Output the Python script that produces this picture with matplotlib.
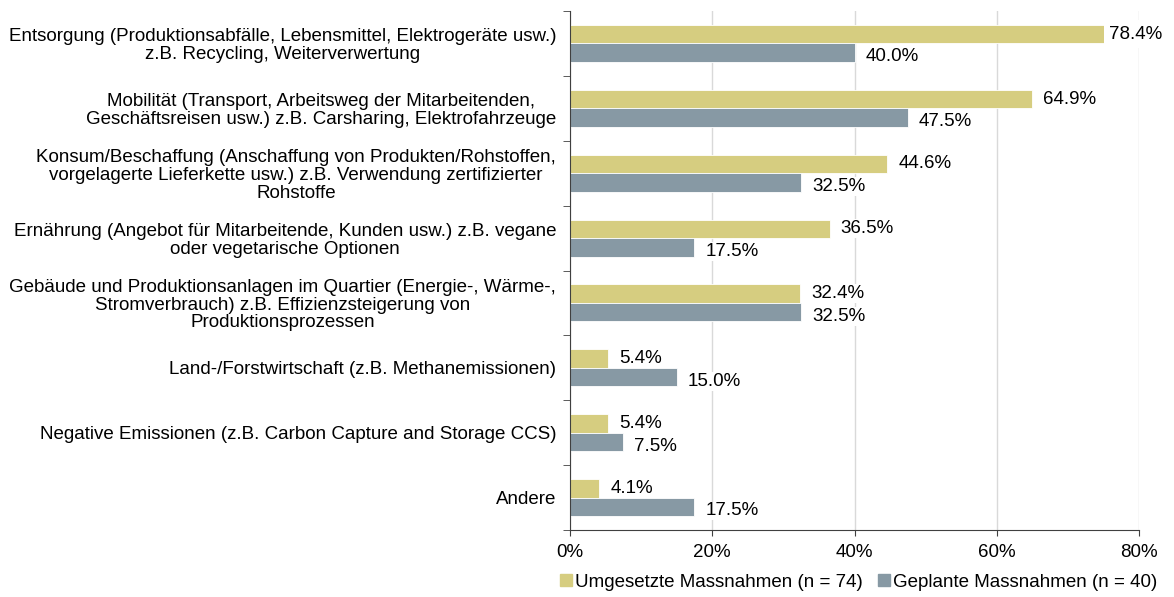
import numpy as np
import matplotlib
matplotlib.use("Agg")
import matplotlib.pyplot as plt
from matplotlib.lines import Line2D

plt.rcParams["font.family"] = ["Liberation Sans", "DejaVu Sans"]

categories = [
    "Entsorgung (Produktionsabfälle, Lebensmittel, Elektrogeräte usw.)\nz.B. Recycling, Weiterverwertung",
    "Mobilität (Transport, Arbeitsweg der Mitarbeitenden,\nGeschäftsreisen usw.) z.B. Carsharing, Elektrofahrzeuge",
    "Konsum/Beschaffung (Anschaffung von Produkten/Rohstoffen,\nvorgelagerte Lieferkette usw.) z.B. Verwendung zertifizierter\nRohstoffe",
    "Ernährung (Angebot für Mitarbeitende, Kunden usw.) z.B. vegane\noder vegetarische Optionen",
    "Gebäude und Produktionsanlagen im Quartier (Energie-, Wärme-,\nStromverbrauch) z.B. Effizienzsteigerung von\nProduktionsprozessen",
    "Land-/Forstwirtschaft (z.B. Methanemissionen)",
    "Negative Emissionen (z.B. Carbon Capture and Storage CCS)",
    "Andere",
]
umgesetzt = [78.4, 64.9, 44.6, 36.5, 32.4, 5.4, 5.4, 4.1]
geplant = [40.0, 47.5, 32.5, 17.5, 32.5, 15.0, 7.5, 17.5]
series_names = ["Umgesetzte Massnahmen (n = 74)", "Geplante Massnahmen (n = 40)"]

GOLD = "#D6CD80"
BLUE = "#8799A4"
FS = 13.5

fig = plt.figure(figsize=(11.74, 5.97), dpi=100)
ax = fig.add_axes([570 / 1174, 1 - 530 / 597, (1139 - 570) / 1174, (530 - 11) / 597])

y = np.arange(len(categories))
h = 0.285
ax.barh(y - h / 2, umgesetzt, height=h, color=GOLD, edgecolor="white", linewidth=0.6, zorder=2)
ax.barh(y + h / 2, geplant, height=h, color=BLUE, edgecolor="white", linewidth=0.6, zorder=2)

ax.set_xlim(0, 80)
ax.set_ylim(len(categories) - 0.5, -0.5)

box = dict(boxstyle="square,pad=0.05", fc="white", ec="none")
for yi, v in zip(y, umgesetzt):
    if v > 75:  # no room outside the bar: pull label in, over the bar end
        ax.annotate(f"{v:.1f}%", xy=(80, yi - h / 2), xytext=(17, 0), textcoords="offset points",
                    ha="right", va="center", fontsize=FS, bbox=dict(boxstyle="square,pad=0.3", fc="white", ec="none"),
                    zorder=4)
    else:
        ax.annotate(f"{v:.1f}%", xy=(v, yi - h / 2), xytext=(8, 0), textcoords="offset points",
                    ha="left", va="center", fontsize=FS, bbox=box, zorder=4)
for yi, v in zip(y, geplant):
    ax.annotate(f"{v:.1f}%", xy=(v, yi + h / 2), xytext=(8, -3), textcoords="offset points",
                ha="left", va="center", fontsize=FS, bbox=box, zorder=3)

# axes styling
ax.set_xticks([0, 20, 40, 60, 80])
ax.set_xticklabels(["0%", "20%", "40%", "60%", "80%"], fontsize=FS)
ax.xaxis.grid(True, color="#D9D9D9", lw=1, zorder=0)
ax.set_axisbelow(True)
ax.tick_params(axis="x", length=4, color="#404040", pad=6)

ax.set_yticks(y)
ax.set_yticklabels(categories, fontsize=FS, linespacing=1.05, multialignment="center")
ax.set_yticks(np.arange(-0.5, len(categories) + 0.5, 1), minor=True)
ax.tick_params(axis="y", which="major", length=0, pad=10)
ax.tick_params(axis="y", which="minor", length=5, color="#404040")

for s in ["top", "right"]:
    ax.spines[s].set_visible(False)
ax.spines["left"].set_color("#404040")
ax.spines["bottom"].set_color("#404040")

handles = [Line2D([], [], ls="none", marker="s", ms=8, color=c) for c in (GOLD, BLUE)]
fig.legend(handles, series_names, loc="center", bbox_to_anchor=(857 / 1174, 1 - 582 / 597),
           ncol=2, frameon=False, fontsize=FS, handletextpad=0.0, columnspacing=0.6,
           handlelength=1.0)

fig.savefig("out.png", dpi=100)
